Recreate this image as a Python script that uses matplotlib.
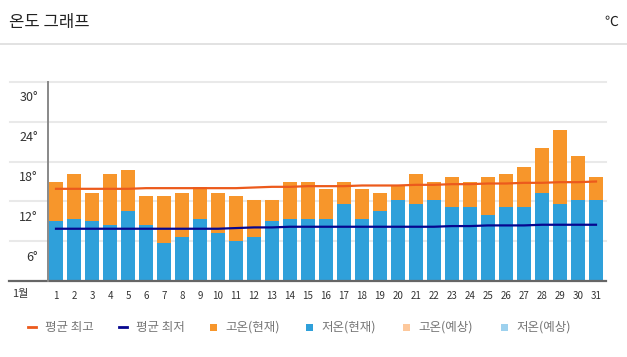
import matplotlib
matplotlib.use("Agg")
import matplotlib.pyplot as plt
from matplotlib.lines import Line2D
from matplotlib.patches import Rectangle
from matplotlib.transforms import blended_transform_factory

plt.rcParams['font.family'] = ['Noto Sans CJK KR', 'DejaVu Sans']

# --- data (January, °C) ---
days = list(range(1, 32))
high_now = [14.9, 16.1, 13.3, 16.1, 16.7, 12.8, 12.8, 13.3, 14.2, 13.3,
            12.8, 12.2, 12.2, 14.9, 14.9, 13.9, 14.9, 13.9, 13.3, 14.3,
            16.1, 14.9, 15.7, 14.9, 15.7, 16.1, 17.2, 20.0, 22.7, 18.8, 15.7]
low_now = [9.0, 9.4, 9.0, 8.4, 10.6, 8.4, 5.7, 6.7, 9.4, 7.2,
           6.1, 6.7, 9.0, 9.4, 9.4, 9.4, 11.6, 9.4, 10.6, 12.2,
           11.6, 12.2, 11.2, 11.2, 10.0, 11.2, 11.2, 13.3, 11.6, 12.2, 12.2]
avg_high = [13.9, 13.9, 13.9, 13.9, 13.9, 14.0, 14.0, 14.0, 14.0, 14.0,
            14.0, 14.1, 14.2, 14.2, 14.3, 14.3, 14.3, 14.4, 14.4, 14.4,
            14.5, 14.5, 14.6, 14.6, 14.7, 14.7, 14.8, 14.8, 14.9, 14.9, 15.0]
avg_low = [7.9, 7.9, 7.9, 7.9, 7.9, 7.9, 7.9, 7.9, 7.9, 7.9,
           8.0, 8.1, 8.1, 8.2, 8.2, 8.2, 8.2, 8.2, 8.2, 8.2,
           8.2, 8.2, 8.3, 8.3, 8.4, 8.4, 8.4, 8.5, 8.5, 8.5, 8.5]
y_ticks = [6, 12, 18, 24, 30]
legend_labels = ["평균 최고", "평균 최저", "고온(현재)", "저온(현재)", "고온(예상)", "저온(예상)"]

ORANGE = "#f7962b"
BLUE = "#2fa0da"
RED_LINE = "#ec5a1c"
NAVY = "#06068f"
LEGEND_COLORS = [RED_LINE, NAVY, ORANGE, BLUE, "#fdc89c", "#9dd1ee"]

W, H = 627, 357
fig = plt.figure(figsize=(W / 100, H / 100), dpi=100)


def fx(x):
    return x / W


def fy(y):
    return 1 - y / H


# --- header ---
fig.text(fx(9), fy(22), "온도 그래프", fontsize=12, color="#222222", va="center", ha="left")
fig.text(fx(618), fy(22), "℃", fontsize=10, color="#222222", va="center", ha="right")
fig.add_artist(Line2D([0, 1], [fy(44.3), fy(44.3)], transform=fig.transFigure,
                      color="#dddddd", lw=1.2))

# --- plot area ---
ax = fig.add_axes([fx(48.3), fy(281.3), fx(606 - 48.3), (281.3 - 81.7) / H])
ax.set_xlim(0.572, 31.556)
ax.set_ylim(0, 30)
for s in ax.spines.values():
    s.set_visible(False)
ax.set_yticks([])

blend = blended_transform_factory(ax.transAxes, ax.transData)
left_ext = -38.3 / (606 - 48.3)
for v in y_ticks:
    ax.plot([left_ext, 1], [v, v], transform=blend, color="#e9e9e9", lw=1.5,
            clip_on=False, zorder=0)
    ax.text(-10.3 / (606 - 48.3), v - 2.4, f"{v}°", transform=blend, ha="right",
            va="center", fontsize=9, color="#333333")

ax.bar(days, high_now, width=0.78, color=ORANGE, zorder=2)
ax.bar(days, low_now, width=0.78, color=BLUE, zorder=3)
ax.plot(days, avg_high, color=RED_LINE, lw=1.6, zorder=4)
ax.plot(days, avg_low, color=NAVY, lw=1.6, zorder=4)

# axis lines
ax.plot([-39.3 / (606 - 48.3), 1], [0, 0], transform=blend, color="#666666", lw=1.6,
        clip_on=False, zorder=5)
ax.plot([0, 0], [0, 30], transform=blend, color="#888888", lw=1.4, clip_on=False, zorder=5)

ax.set_xticks(days)
ax.set_xticklabels([str(d) for d in days], fontsize=7, color="#333333")
ax.tick_params(axis="x", length=0, pad=7)
fig.text(fx(20), fy(294), "1월", fontsize=8, color="#333333", ha="center", va="center")

# --- legend ---
text_x = [45, 136, 225, 321, 418, 516]
ly = 327
for i, (lab, col, tx) in enumerate(zip(legend_labels, LEGEND_COLORS, text_x)):
    if i < 2:
        fig.add_artist(Line2D([fx(tx - 17), fx(tx - 9)], [fy(ly), fy(ly)],
                              transform=fig.transFigure, color=col, lw=2))
    else:
        fig.add_artist(Rectangle((fx(tx - 15), fy(ly + 3.5)), fx(7), 7 / H,
                                 transform=fig.transFigure, color=col, lw=0))
    fig.text(fx(tx), fy(ly), lab, fontsize=9, color="#777777", ha="left", va="center")

fig.savefig("out.png", dpi=100)
